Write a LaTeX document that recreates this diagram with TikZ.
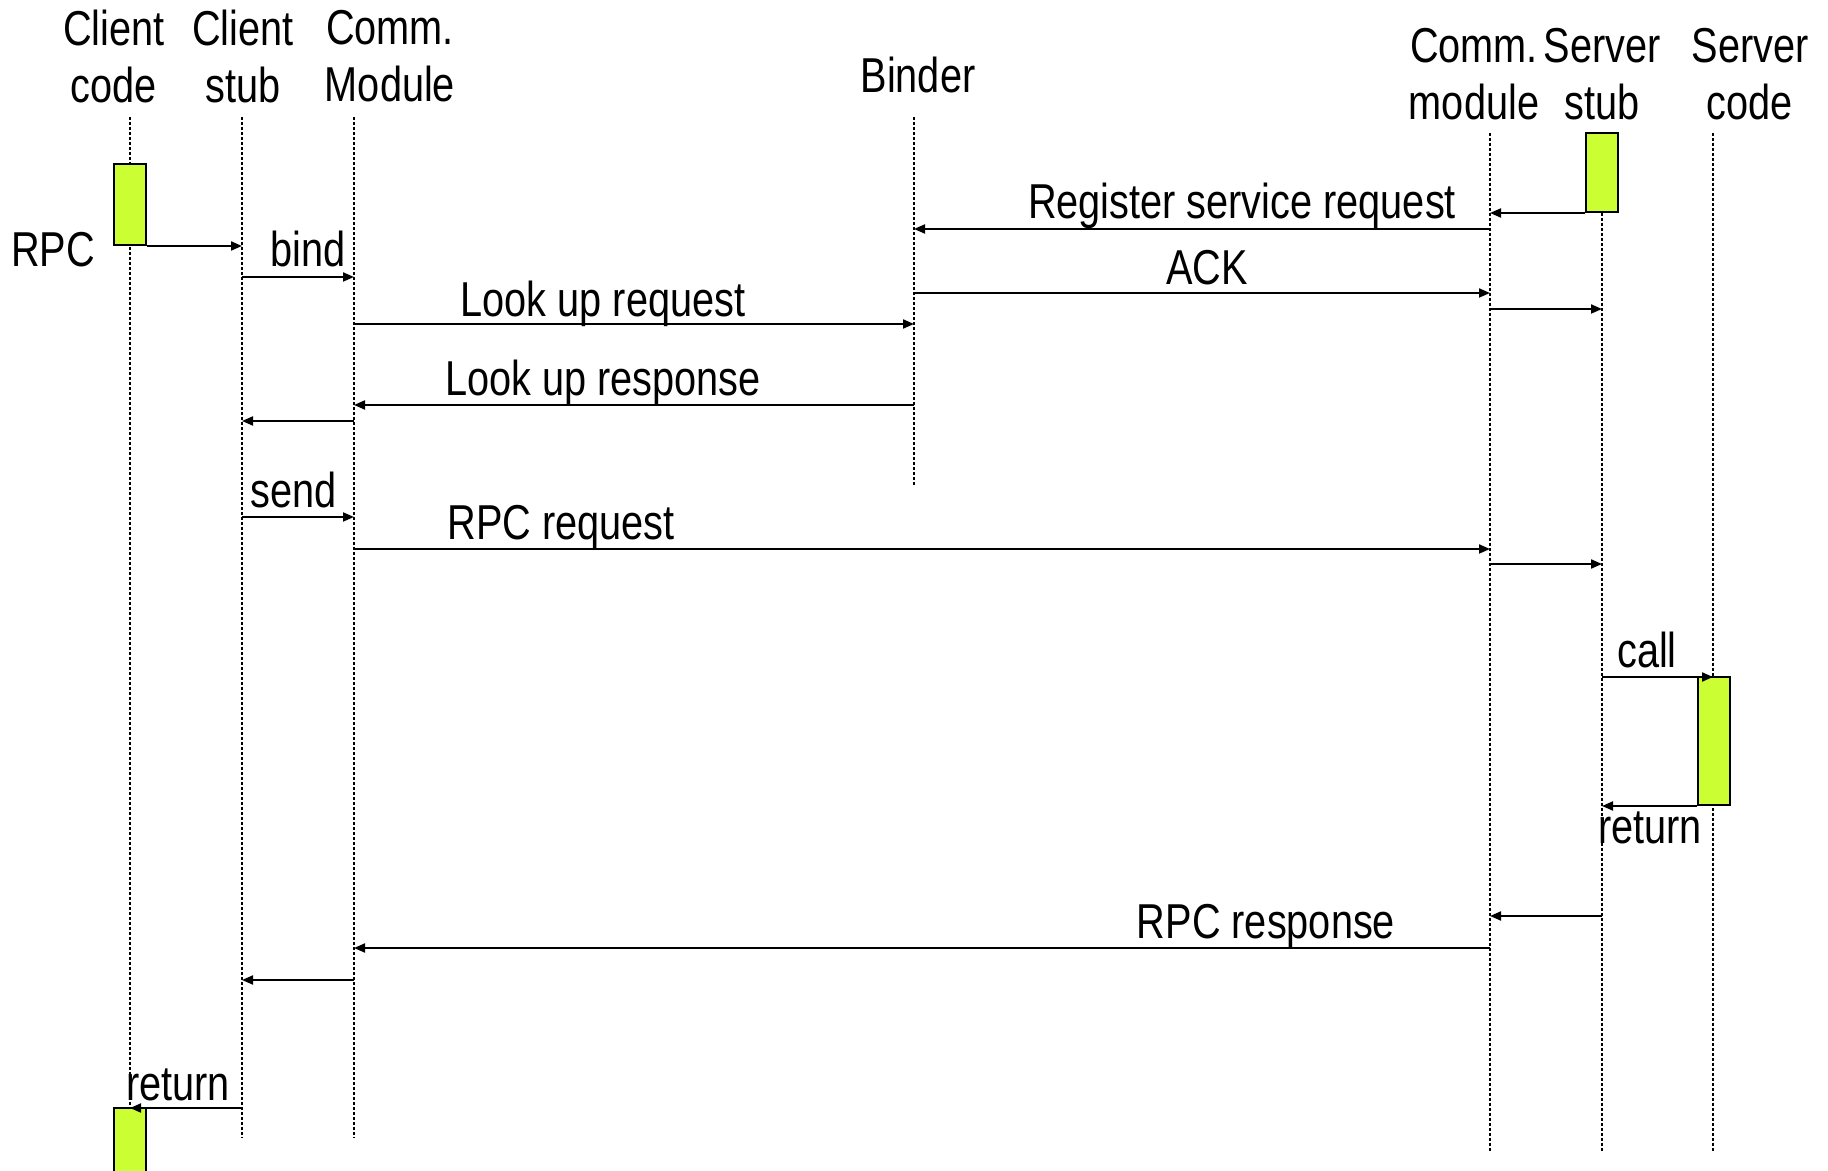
\documentclass[tikz,border=0pt]{standalone}
\usepackage{fontspec}
\setmainfont{Liberation Sans}[FakeStretch=0.81]
\usetikzlibrary{arrows.meta, positioning}
\definecolor{actgreen}{HTML}{CCFF33}

\begin{document}
\begin{tikzpicture}[
                x=0.5pt, y=-0.5pt,
                every node/.style={font=\fontsize{24.5}{28.5}\selectfont, inner sep=0pt},
                head/.style={align=center, anchor=north},
                lbl/.style={anchor=base},
                life/.style={line width=1.3pt, dash pattern=on 1.3pt off 1.2pt},
                msg/.style={line width=1pt, -{Triangle[length=5.5pt,width=4.5pt]}},
                act/.style={rectangle, draw, fill=actgreen, line width=1pt, minimum width=16pt}
            ]
            \useasboundingbox (0,0) rectangle (1828,1171);

            % headers
            \node[head] (hcc) at (114,10) {Client\\code};
            \node[head] (hcs) at (243,10) {Client\\stub};
            \node[head] (hcm) at (390,10) {Comm.\\Module};
            \node[lbl] (hbd) at (918,93) {Binder};
            \node[head] (hsm) at (1474,28) {Comm.\\module};
            \node[head] (hss) at (1602,28) {Server\\stub};
            \node[head] (hsc) at (1750,28) {Server\\code};

            % lifelines
            \coordinate (cc-top) at (130,117);  \coordinate (cc-bot) at (130,1171);
            \coordinate (cs-top) at (242,117);  \coordinate (cs-bot) at (242,1138);
            \coordinate (cm-top) at (354,117);  \coordinate (cm-bot) at (354,1138);
            \coordinate (bd-top) at (914,117);  \coordinate (bd-bot) at (914,486);
            \coordinate (sm-top) at (1490,133); \coordinate (sm-bot) at (1490,1152);
            \coordinate (ss-top) at (1602,133); \coordinate (ss-bot) at (1602,1152);
            \coordinate (sc-top) at (1713,133); \coordinate (sc-bot) at (1713,1152);

            \draw[life] (cc-top) -- (cc-bot);
            \draw[life] (cs-top) -- (cs-bot);
            \draw[life] (cm-top) -- (cm-bot);
            \draw[life] (bd-top) -- (bd-bot);
            \draw[life] (sm-top) -- (sm-bot);
            \draw[life] (ss-top) -- (ss-bot);
            \draw[life] (sc-top) -- (sc-bot);

            % activations
            \node[act, minimum height=40.5pt] (act1) at (129.5,204.5) {};
            \node[act, minimum height=39.5pt] (act2) at (1602,172.5) {};
            \node[act, minimum height=64pt] (act3) at (1714,741) {};
            \node[act, minimum height=40pt] (act4) at (130,1148) {};

            % message levels
            \coordinate (y1) at (0,277);
            \coordinate (y2) at (0,229);
            \coordinate (y3) at (0,293);
            \coordinate (y4) at (0,309);
            \coordinate (y5) at (0,324);
            \coordinate (y6) at (0,405);
            \coordinate (y7) at (0,421);
            \coordinate (y8) at (0,517);
            \coordinate (y9) at (0,549);
            \coordinate (y10) at (0,564);
            \coordinate (y11) at (0,677);
            \coordinate (y12) at (0,916);
            \coordinate (y13) at (0,948);
            \coordinate (y14) at (0,980);
            \coordinate (y15) at (0,1108);

            % bind phase
            \draw[msg] (act1.south east) -- (act1.south east -| cs-top);
            \node[lbl] (lrpc) at (53,267) {RPC};
            \draw[msg] (cs-top |- y1) -- (cm-top |- y1);
            \node[lbl] (lbind) at (308,267) {bind};

            \draw[msg] (act2.south west) -- (act2.south west -| sm-top);
            \draw[msg] (sm-top |- y2) -- (bd-top |- y2);
            \node[lbl] (lreg) at (1242,219) {Register service request};
            \draw[msg] (bd-top |- y3) -- (sm-top |- y3);
            \node[lbl] (lack) at (1207,285) {ACK};
            \draw[msg] (sm-top |- y4) -- (ss-top |- y4);

            \draw[msg] (cm-top |- y5) -- (bd-top |- y5);
            \node[lbl] (lreq) at (603,317) {Look up request};
            \draw[msg] (bd-top |- y6) -- (cm-top |- y6);
            \node[lbl] (lresp) at (603,396) {Look up response};
            \draw[msg] (cm-top |- y7) -- (cs-top |- y7);

            % call phase
            \draw[msg] (cs-top |- y8) -- (cm-top |- y8);
            \node[lbl] (lsend) at (294,508) {send};
            \draw[msg] (cm-top |- y9) -- (sm-top |- y9);
            \node[lbl] (lrpcreq) at (561,540) {RPC request};
            \draw[msg] (sm-top |- y10) -- (ss-top |- y10);

            \draw[msg] (ss-top |- y11) -- (sc-top |- y11);
            \node[lbl] (lcall) at (1647,668) {call};
            \draw[msg] (act3.south west) -- (act3.south west -| ss-top);
            \node[lbl] (lret1) at (1650,843) {return};

            \draw[msg] (ss-top |- y12) -- (sm-top |- y12);
            \draw[msg] (sm-top |- y13) -- (cm-top |- y13);
            \node[lbl] (lrpcresp) at (1266,938) {RPC response};
            \draw[msg] (cm-top |- y14) -- (cs-top |- y14);
            \draw[msg] (cs-top |- y15) -- (cc-top |- y15);
            \node[lbl] (lret2) at (178,1100) {return};

        \end{tikzpicture}
\end{document}
